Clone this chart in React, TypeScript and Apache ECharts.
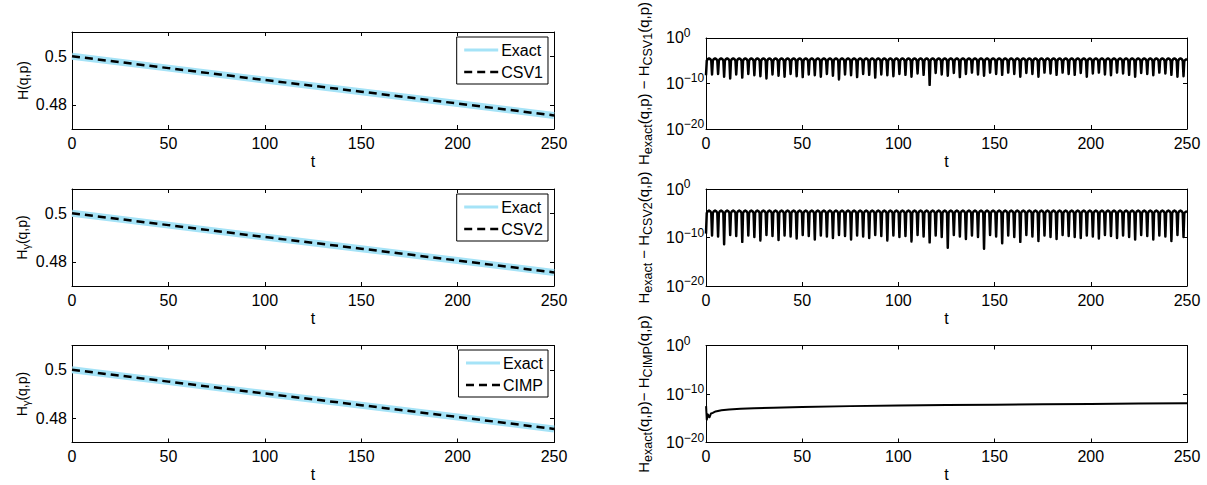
import React, { useEffect, useRef } from 'react';
import * as echarts from 'echarts';

// ---------- data ----------
const tAxisTicks = [0, 50, 100, 150, 200, 250];
const hTicks = [0.48, 0.5];

const energyT = [0, 50, 100, 150, 200, 250];
const hExact1 = [0.5, 0.4951, 0.4902, 0.4854, 0.4805, 0.4756];
const hCSV1 = [0.5, 0.4951, 0.4902, 0.4854, 0.4805, 0.4756];
const hExact2 = [0.5, 0.4951, 0.4902, 0.4854, 0.4805, 0.4756];
const hCSV2 = [0.5, 0.4951, 0.4902, 0.4854, 0.4805, 0.4756];
const hExact3 = [0.5, 0.4951, 0.4902, 0.4854, 0.4805, 0.4756];
const hCIMP = [0.5, 0.4951, 0.4902, 0.4854, 0.4805, 0.4756];

// times of the error dips (t), and log10 of the error at each dip
const dipTimes = [
  0, 3.14, 6.28, 9.42, 12.57, 15.71, 18.85, 21.99, 25.13, 28.27, 31.42, 34.56, 37.7, 40.84, 43.98,
  47.12, 50.27, 53.41, 56.55, 59.69, 62.83, 65.97, 69.12, 72.26, 75.4, 78.54, 81.68, 84.82, 87.96,
  91.11, 94.25, 97.39, 100.53, 103.67, 106.81, 109.96, 113.1, 116.24, 119.38, 122.52, 125.66,
  128.81, 131.95, 135.09, 138.23, 141.37, 144.51, 147.65, 150.8, 153.94, 157.08, 160.22, 163.36,
  166.5, 169.65, 172.79, 175.93, 179.07, 182.21, 185.35, 188.5, 191.64, 194.78, 197.92, 201.06,
  204.2, 207.35, 210.49, 213.63, 216.77, 219.91, 223.05, 226.19, 229.34, 232.48, 235.62, 238.76,
  241.9, 245.04, 248.19,
];
const csv1DipLog10 = [
  -8.2, -8.0, -7.9, -8.5, -8.9, -8.0, -8.7, -7.9, -8.2, -8.4, -8.9, -8.0, -8.3, -8.5, -7.9, -8.4,
  -8.6, -8.0, -8.2, -8.5, -7.9, -8.3, -9.1, -8.0, -8.2, -8.6, -7.9, -8.1, -8.7, -8.0, -8.2, -8.4,
  -7.9, -8.1, -8.5, -7.8, -8.1, -10.3, -7.7, -8.0, -8.3, -7.7, -8.6, -7.9, -7.6, -8.0, -8.3, -7.6,
  -7.9, -8.1, -7.6, -7.9, -8.5, -7.7, -7.9, -8.5, -7.6, -7.8, -8.1, -7.6, -7.9, -8.1, -7.7, -8.5,
  -7.8, -7.6, -8.0, -8.2, -7.6, -7.8, -8.1, -8.5, -7.7, -7.9, -8.2, -7.6, -7.8, -8.1, -8.5, -8.4,
];
const csv1PeakLog10 = -4.5;
const csv2DipLog10 = [
  -9.2, -9.6, -9.8, -11.4, -9.5, -9.7, -10.9, -9.6, -9.9, -10.6, -9.5, -9.7, -10.5, -9.6, -9.8,
  -10.2, -9.5, -9.7, -10.4, -9.6, -9.8, -10.1, -9.5, -9.7, -10.4, -9.6, -9.8, -10.1, -9.5, -9.7,
  -10.6, -9.6, -9.9, -9.7, -10.8, -9.5, -9.8, -11.0, -9.6, -9.9, -12.1, -9.5, -9.8, -10.3, -9.6,
  -9.9, -12.3, -9.5, -9.8, -11.2, -9.6, -9.9, -10.9, -9.5, -9.8, -10.7, -9.6, -9.9, -10.3, -9.5,
  -9.7, -9.9, -10.1, -9.6, -9.8, -10.2, -9.5, -9.7, -10.1, -9.6, -9.9, -10.4, -9.5, -9.7, -10.4,
  -9.6, -9.8, -10.7, -9.5, -9.9,
];
const csv2PeakLog10 = -4.45;

const cimpT = [0.05, 0.4, 1.0, 1.8, 2.6, 3.5, 5, 8, 12, 18, 25, 35, 50, 75, 100, 125, 150, 175, 200, 225, 250];
const cimpLog10 = [
  -12.5, -15.3, -14.2, -14.8, -14.0, -13.9, -13.6, -13.35, -13.2, -13.05, -12.95, -12.85, -12.7,
  -12.5, -12.35, -12.25, -12.2, -12.1, -12.05, -11.95, -11.9,
];

// ---------- styling ----------
const FONT = 'Liberation Sans, Arial, Helvetica, sans-serif';
const EXACT_COLOR = '#a5e3f7';
const CUSP = 0.4; // half-width of a dip stroke (in t units), purely for drawing
const CUSP2 = 0.9;

function errorCurve(times: number[], dips: number[], peak: number, tEnd: number) {
  const pts: number[][] = [];
  for (let k = 0; k < times.length; k++) {
    const T = times[k];
    pts.push([T, Math.pow(10, dips[k])]);
    if (k + 1 < times.length) {
      const Tn = times[k + 1];
      pts.push([T + CUSP, Math.pow(10, peak - 0.5)]);
      pts.push([T + CUSP2, Math.pow(10, peak - 0.15)]);
      pts.push([(T + Tn) / 2, Math.pow(10, peak)]);
      pts.push([Tn - CUSP2, Math.pow(10, peak - 0.15)]);
      pts.push([Tn - CUSP, Math.pow(10, peak - 0.5)]);
    } else {
      pts.push([T + CUSP, Math.pow(10, peak - 0.5)]);
      pts.push([tEnd, Math.pow(10, peak - 0.1)]);
    }
  }
  return pts;
}

const zip = (a: number[], b: number[]) => a.map((v, i) => [v, b[i]]);

const gridDefs = [
  { left: 72, top: 32, width: 482, height: 97 },
  { left: 706, top: 32, width: 481, height: 97 },
  { left: 72, top: 189, width: 482, height: 97 },
  { left: 706, top: 189, width: 481, height: 97 },
  { left: 72, top: 345.5, width: 482, height: 97 },
  { left: 706, top: 345.5, width: 481, height: 97 },
];

const leftRich = {
  n: { fontSize: 14, lineHeight: 16, fontFamily: FONT, color: '#000' },
  s: { fontSize: 11, lineHeight: 11, padding: [8, 0, 0, 0], fontFamily: FONT, color: '#000' },
};
const rightRich = {
  n: { fontSize: 15, lineHeight: 17, fontFamily: FONT, color: '#000' },
  s: { fontSize: 12.5, lineHeight: 12, padding: [9, 0, 0, 0], fontFamily: FONT, color: '#000' },
};

const leftNames = ['{n|H(q,p)}', '{n|H}{s|γ}{n|(q,p)}', '{n|H}{s|γ}{n|(q,p)}'];
const rightNames = [
  '{n|H}{s|exact}{n|(q,p) − H}{s|CSV1}{n|(q,p)}',
  '{n|H}{s|exact}{n| − H}{s|CSV2}{n|(q,p)}',
  '{n|H}{s|exact}{n|(q,p)− H}{s|CIMP}{n|(q,p)}',
];

function buildOption() {
  const xAxis: any[] = [];
  const yAxis: any[] = [];
  const lineAx = { show: true, onZero: false, lineStyle: { color: '#000', width: 1 } };
  gridDefs.forEach((g, i) => {
    const isLog = i % 2 === 1;
    const xBase = {
      type: 'value',
      gridIndex: i,
      min: tAxisTicks[0],
      max: tAxisTicks[tAxisTicks.length - 1],
      interval: 50,
      axisLine: lineAx,
      splitLine: { show: false },
      axisTick: { show: true, inside: true, length: 4, lineStyle: { color: '#000' } },
    };
    xAxis.push({
      ...xBase,
      position: 'bottom',
      name: 't',
      nameLocation: 'middle',
      nameGap: 24,
      nameTextStyle: { fontSize: 16, fontFamily: FONT, color: '#000' },
      axisLabel: { fontSize: 16, fontFamily: FONT, color: '#000', margin: 6 },
    });
    xAxis.push({ ...xBase, position: 'top', axisLabel: { show: false } });

    if (!isLog) {
      const yBase = {
        type: 'value',
        gridIndex: i,
        min: 0.47,
        max: 0.51,
        axisLine: lineAx,
        splitLine: { show: false },
        axisTick: { show: true, inside: true, length: 4, lineStyle: { color: '#000' }, customValues: hTicks },
      };
      yAxis.push({
        ...yBase,
        position: 'left',
        name: leftNames[i / 2],
        nameLocation: 'middle',
        nameGap: 41,
        nameRotate: 90,
        nameTextStyle: { rich: leftRich },
        axisLabel: {
          fontSize: 16,
          fontFamily: FONT,
          color: '#000',
          margin: 5,
          customValues: hTicks,
          formatter: (v: number) => String(v),
        },
      });
      yAxis.push({ ...yBase, position: 'right', axisLabel: { show: false } });
    } else {
      const yBase = {
        type: 'log',
        logBase: 10,
        gridIndex: i,
        min: 1e-20,
        max: 1,
        interval: 10,
        axisLine: lineAx,
        splitLine: { show: false },
        minorTick: { show: false },
        axisTick: { show: true, inside: true, length: 4, lineStyle: { color: '#000' } },
      };
      yAxis.push({
        ...yBase,
        position: 'left',
        name: rightNames[(i - 1) / 2],
        nameLocation: 'middle',
        nameGap: 54,
        nameRotate: 90,
        nameTextStyle: { rich: rightRich },
        axisLabel: {
          margin: 40,
          align: 'left',
          formatter: (v: number) => {
            const e = Math.round(Math.log10(v));
            const s = e < 0 ? '−' + -e : String(e);
            return '{b|10}{s|' + s + '}';
          },
          rich: {
            b: { fontSize: 16, lineHeight: 16, fontFamily: FONT, color: '#000' },
            s: { fontSize: 12, lineHeight: 12, padding: [0, 0, 10, 0], fontFamily: FONT, color: '#000' },
          },
        },
      });
      yAxis.push({ ...yBase, position: 'right', axisLabel: { show: false } });
    }
  });

  const exactStyle = (xi: number, data: number[][]) => ({
    type: 'line',
    name: 'Exact',
    xAxisIndex: xi,
    yAxisIndex: xi,
    data,
    symbol: 'none',
    z: 2,
    itemStyle: { color: EXACT_COLOR },
    lineStyle: { color: EXACT_COLOR, width: 7 },
  });
  const dashStyle = (name: string, xi: number, data: number[][]) => ({
    type: 'line',
    name,
    xAxisIndex: xi,
    yAxisIndex: xi,
    data,
    symbol: 'none',
    z: 3,
    itemStyle: { color: '#000' },
    lineStyle: { color: '#000', width: 2.5, type: [8, 5] },
  });
  const errStyle = (name: string, xi: number, data: number[][], w: number) => ({
    type: 'line',
    name,
    xAxisIndex: xi,
    yAxisIndex: xi,
    data,
    symbol: 'none',
    z: 3,
    itemStyle: { color: '#000' },
    lineStyle: { color: '#000', width: w, join: 'round' },
  });

  const tEnd = tAxisTicks[tAxisTicks.length - 1];
  const series = [
    exactStyle(0, zip(energyT, hExact1)),
    dashStyle('CSV1', 0, zip(energyT, hCSV1)),
    errStyle('errCSV1', 2, errorCurve(dipTimes, csv1DipLog10, csv1PeakLog10, tEnd), 2.5),
    exactStyle(4, zip(energyT, hExact2)),
    dashStyle('CSV2', 4, zip(energyT, hCSV2)),
    errStyle('errCSV2', 6, errorCurve(dipTimes, csv2DipLog10, csv2PeakLog10, tEnd), 2.5),
    exactStyle(8, zip(energyT, hExact3)),
    dashStyle('CIMP', 8, zip(energyT, hCIMP)),
    errStyle('errCIMP', 10, zip(cimpT, cimpLog10.map((e) => Math.pow(10, e))), 2),
  ];

  const legendBase = (name: string, top: number) => ({
    data: [
      { name: 'Exact', lineStyle: { width: 3 }, itemStyle: { opacity: 0 } },
      { name, lineStyle: { width: 2.5 }, itemStyle: { opacity: 0 } },
    ],
    orient: 'vertical',
    right: 659,
    top,
    itemWidth: 34,
    itemHeight: 10,
    itemGap: 6,
    padding: [5, 5, 4, 6],
    borderColor: '#000',
    borderWidth: 1,
    borderRadius: 0,
    backgroundColor: '#fff',
    selectedMode: false,
    textStyle: { fontSize: 16, fontFamily: FONT, color: '#000', padding: [0, 0, 0, -2] },
  });

  return {
    animation: false,
    backgroundColor: '#fff',
    grid: gridDefs.map((g) => ({ ...g, containLabel: false })),
    xAxis,
    yAxis,
    legend: [legendBase('CSV1', 37), legendBase('CSV2', 194), legendBase('CIMP', 350)],
    series,
  };
}

export default function App() {
  const ref = useRef<HTMLDivElement>(null);
  useEffect(() => {
    if (!ref.current) return;
    const chart = echarts.init(ref.current, undefined, { renderer: 'svg' });
    chart.setOption(buildOption() as any);
    return () => chart.dispose();
  }, []);
  return (
    <div
      ref={ref}
      style={{ position: 'absolute', left: 0, top: 0, width: 1207, height: 485, background: '#fff' }}
    />
  );
}
